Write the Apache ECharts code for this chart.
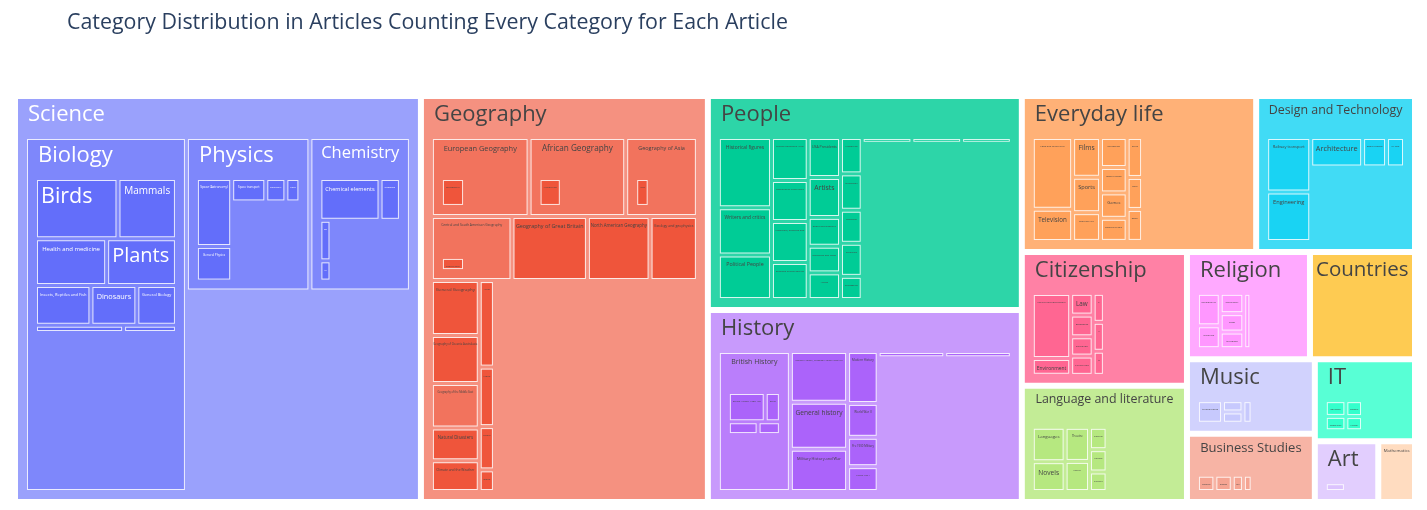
<!DOCTYPE html>
<html><head><meta charset="utf-8">
<script src="https://cdn.jsdelivr.net/npm/echarts@6/dist/echarts.min.js"></script>
<style>html,body{margin:0;padding:0;background:#fff}#chart{width:1427px;height:510px}</style>
</head><body><div id="chart"></div>
<script>
// ---------------- data ----------------
const topLabels = ['Science','Geography','People','History','Everyday life','Design and Technology','Citizenship','Language and literature','Religion','Countries','Music','Business Studies','IT','Art','Mathematics'];
const topValues = [1624,1148,662,594,360,244,218,189,130,111,94,86,81,38,22];
const topColors = ['#636efa','#ef553b','#00cc96','#ab63fa','#ffa15a','#19d3f3','#ff6692','#b6e880','#ff97ff','#fecb52','#c7c9fd','#f5a492','#34ffcc','#dcc3fe','#ffdcc0'];

const scienceLabels = ['Biology','Physics','Chemistry'];
const scienceValues = [679,226,184];
const biologyLabels = ['Birds','Mammals','Health and medicine','Plants','Insects, Reptiles and Fish','Dinosaurs','General Biology','Organisms','Evolution and reproduction'];
const biologyValues = [79,56,53,52,35,29,25,10,6];
const physicsLabels = ['Space (Astronomy)','General Physics','Space transport','Electricity and Electronics','Physics concepts'];
const physicsValues = [51,26,17,10,7];
const chemistryLabels = ['Chemical elements','Chemical compounds','Organic chemistry','Materials science'];
const chemistryValues = [56,19,10,5];

const geographyLabels = ['European Geography','African Geography','Geography of Asia','Central and South American Geography','Geography of Great Britain','North American Geography','Geology and geophysics','General Geography','Geography of Oceania Australasia','Geography of the Middle East','Natural Disasters','Climate and the Weather','Antarctica','Mountains','Rivers and lakes','Islands'];
const geographyValues = [94,93,69,63,59,49,37,32,28,26,19,18,16,11,8,4];
const europeLabels = ['European Countries'];
const europeValues = [28];
const africaLabels = ['African Countries'];
const africaValues = [27];
const asiaLabels = ['Asian Countries'];
const asiaValues = [18];
const americasLabels = ['Central and South American Countries'];
const americasValues = [24];
const middleEastLabels = ['Middle Eastern Countries'];
const middleEastValues = [6];

const peopleLabels = ['Historical figures','Writers and critics','Political People','Musical Recording Artists and composers','Monarchs of Great Britain','Producers, directors and media figures','Religious figures and leaders','USA Presidents','Artists','Sports and games people','Engineers and inventors','Actors','Human Scientists','Mathematicians','Chemists','Physicists','Philosophers','Military People','Explorers','Astronomers'];
const peopleValues = [52,35,33,22,21,21,19,18,18,13,12,12,11,11,10,10,7,4,4,4];

const historyLabels = ['British History','Ancient History, Classical History and Mythology','General history','Military History and War','Modern History','World War II','Pre 1900 Military','World War I','Historians, chroniclers and history books','Recent History'];
const historyValues = [146,42,39,35,23,15,13,11,6,6];
const britishLabels = ['British History 1500-1750','British History Post 1900','British History 1750-1900','British History Pre 1500'];
const britishValues = [34,14,12,9];

const everydayLabels = ['Food and agriculture','Television','Films','Sports','Everyday life','Recreation','Sports teams','Games','Computer and Video games','Drink','Toys','Sports events'];
const everydayValues = [47,21,18,16,13,13,11,11,10,10,8,8];

const designLabels = ['Railway transport','Engineering','Architecture','Road transport','Air and Sea transport'];
const designValues = [41,37,26,12,9];

const citizenshipLabels = ['Politics and government','Environment','Law','Economics','Education','Culture and Diversity','Community organisations','Human rights','Media'];
const citizenshipValues = [46,12,9,9,8,8,6,6,5];

const literatureLabels = ['Languages','Novels','Theatre','Poetry','Linguistics',"Children's books",'Literature types'];
const literatureValues = [23,20,17,15,8,8,7];

const religionLabels = ['Religious texts','Divinities','Christianity','Islam','Mythology','Religious figures'];
const religionValues = [17,12,11,10,9,9];

const musicLabels = ['Musical genres, styles, eras and events','Musical instruments','Music theory','Classical music'];
const musicValues = [22,9,9,8];

const businessLabels = ['Companies','Economics','Business','Currency'];
const businessValues = [14,14,9,7];

const itLabels = ['Software','Computer Programming','Computing hardware and infrastructure','Websites and the Internet'];
const itValues = [11,10,9,8];

const artLabels = ['Art'];
const artValues = [18];

// ---------------- hierarchy (built from the arrays) ----------------
const groups = {
  'Science': [scienceLabels, scienceValues],
  'Science/Biology': [biologyLabels, biologyValues],
  'Science/Physics': [physicsLabels, physicsValues],
  'Science/Chemistry': [chemistryLabels, chemistryValues],
  'Geography': [geographyLabels, geographyValues],
  'Geography/European Geography': [europeLabels, europeValues],
  'Geography/African Geography': [africaLabels, africaValues],
  'Geography/Geography of Asia': [asiaLabels, asiaValues],
  'Geography/Central and South American Geography': [americasLabels, americasValues],
  'Geography/Geography of the Middle East': [middleEastLabels, middleEastValues],
  'People': [peopleLabels, peopleValues],
  'History': [historyLabels, historyValues],
  'History/British History': [britishLabels, britishValues],
  'Everyday life': [everydayLabels, everydayValues],
  'Design and Technology': [designLabels, designValues],
  'Citizenship': [citizenshipLabels, citizenshipValues],
  'Language and literature': [literatureLabels, literatureValues],
  'Religion': [religionLabels, religionValues],
  'Music': [musicLabels, musicValues],
  'Business Studies': [businessLabels, businessValues],
  'IT': [itLabels, itValues],
  'Art': [artLabels, artValues]
};

// ---------------- styles ----------------
const FONT = '"Open Sans", verdana, arial, sans-serif';
const PAD = 9, HEADER = 40, GAP = 3;
const OUTLINE = 'rgba(255,255,255,0.8)';
const labelSizes = {
  'Science':22,'Geography':22,'People':22,'History':22,'Everyday life':22,'Design and Technology':12.4,
  'Citizenship':22,'Language and literature':12.4,'Religion':22,'Countries':20.5,'Music':22,
  'Business Studies':13,'IT':22,'Art':22,'Mathematics':4.3,
  'Science/Biology':22,'Science/Physics':22,'Science/Chemistry':16.5,
  'Science/Biology/Birds':21.5,'Science/Biology/Mammals':10,'Science/Biology/Health and medicine':6,
  'Science/Biology/Plants':20,'Science/Biology/Insects, Reptiles and Fish':4,'Science/Biology/Dinosaurs':7.3,
  'Science/Biology/General Biology':4,
  'Science/Physics/Space (Astronomy)':3.2,'Science/Physics/General Physics':3,'Science/Physics/Space transport':2.9,
  'Science/Chemistry/Chemical elements':5.6,
  'Geography/European Geography':7.4,'Geography/African Geography':8.2,'Geography/Geography of Asia':5.5,
  'Geography/Central and South American Geography':3.3,'Geography/Geography of Great Britain':5.4,
  'Geography/North American Geography':4.4,'Geography/Geology and geophysics':3.5,'Geography/General Geography':4.3,
  'Geography/Geography of Oceania Australasia':2.8,'Geography/Geography of the Middle East':2.6,
  'Geography/Natural Disasters':4.4,'Geography/Climate and the Weather':3.3,
  'People/Historical figures':4.9,'People/Writers and critics':4.9,'People/Political People':5.3,
  'People/Artists':6.8,'People/USA Presidents':3.5,
  'History/British History':7,'History/General history':6.6,'History/Military History and War':3.9,
  'History/Modern History':3,'History/World War II':3,'History/Pre 1900 Military':2.8,
  'Everyday life/Films':6.7,'Everyday life/Sports':5.6,'Everyday life/Television':6.2,'Everyday life/Games':4,
  'Design and Technology/Architecture':7.3,'Design and Technology/Railway transport':3.9,
  'Design and Technology/Engineering':5.7,
  'Citizenship/Law':6.3,'Citizenship/Environment':4.9,
  'Language and literature/Languages':4.3,'Language and literature/Novels':6.6,'Language and literature/Theatre':3,
  'Art/Art':3.5
};

function mix(hex, a) {
  const n = parseInt(hex.slice(1), 16);
  const r = (n >> 16) & 255, g = (n >> 8) & 255, b = n & 255;
  const f = v => Math.round(a * v + (1 - a) * 255);
  return 'rgb(' + f(r) + ',' + f(g) + ',' + f(b) + ')';
}
function heightOf(path) {
  const g = groups[path];
  if (!g) return 0;
  let h = 0;
  g[0].forEach(l => { h = Math.max(h, heightOf(path + '/' + l)); });
  return h + 1;
}
function labelCfg(path, depth, textColor, isHeader) {
  const fixed = labelSizes[path];
  const size = fixed || (depth === 1 ? 22 : 2.5);
  const left = size >= 20;
  return {
    show: true, fontSize: size, fontFamily: FONT, color: textColor, fontWeight: 'normal',
    position: left ? 'insideTopLeft' : 'insideTop', distance: 0,
    align: left ? 'left' : 'center', verticalAlign: 'top',
    padding: left ? [5, 0, 0, isHeader ? 1 : 3] : [5, 1, 0, 1],
    overflow: fixed ? 'none' : 'truncate', ellipsis: ''
  };
}
function build(path, label, value, base, textColor, depth) {
  const g = groups[path];
  if (!g) {
    return {
      name: label, value: value,
      itemStyle: { color: base, borderColor: OUTLINE, borderWidth: 1, gapWidth: 0 },
      label: labelCfg(path, depth, textColor, false),
      upperLabel: { show: false }
    };
  }
  const fill = mix(base, 1 - 0.175 * heightOf(path));
  const kids = g[0].map((l, i) => build(path + '/' + l, l, g[1][i], base, textColor, depth + 1));
  const own = value - g[1].reduce((a, b) => a + b, 0);
  kids.push({
    name: '', value: own, silent: true,
    itemStyle: { color: 'rgba(0,0,0,0)', borderColor: 'rgba(0,0,0,0)', borderWidth: 0 },
    label: { show: false }, upperLabel: { show: false }
  });
  const up = labelCfg(path, depth, textColor, true);
  up.height = HEADER;
  return {
    name: label, value: value,
    itemStyle: { borderColor: OUTLINE, borderWidth: 1, gapWidth: 0 },
    label: { show: false }, upperLabel: { show: false },
    children: [{
      name: label, value: value,
      itemStyle: { borderColor: fill, borderWidth: PAD, gapWidth: GAP },
      label: { show: false }, upperLabel: up,
      children: kids
    }]
  };
}
const treeData = topLabels.map((l, i) =>
  build(l, l, topValues[i], topColors[i], topColors[i] === '#636efa' ? '#ffffff' : '#444444', 1));

// ---------------- chart ----------------
const chart = echarts.init(document.getElementById('chart'), null, { renderer: 'canvas' });
chart.setOption({
  animation: false,
  backgroundColor: '#ffffff',
  title: {
    text: 'Category Distribution in Articles Counting Every Category for Each Article',
    left: 62, top: 7,
    textStyle: { fontFamily: FONT, fontSize: 21.4, fontWeight: 'normal', color: '#2a3f5f' }
  },
  series: [{
    type: 'treemap',
    left: 17, top: 98, width: 1396, height: 402,
    roam: false, nodeClick: false, sort: false, squareRatio: 1,
    visibleMin: 0, drillDownIcon: '',
    breadcrumb: { show: false },
    emphasis: { disabled: true },
    levels: [{ itemStyle: { borderWidth: 0, gapWidth: 4, borderColor: '#ffffff' }, upperLabel: { show: false } }],
    data: treeData
  }]
});
</script>
</body></html>
